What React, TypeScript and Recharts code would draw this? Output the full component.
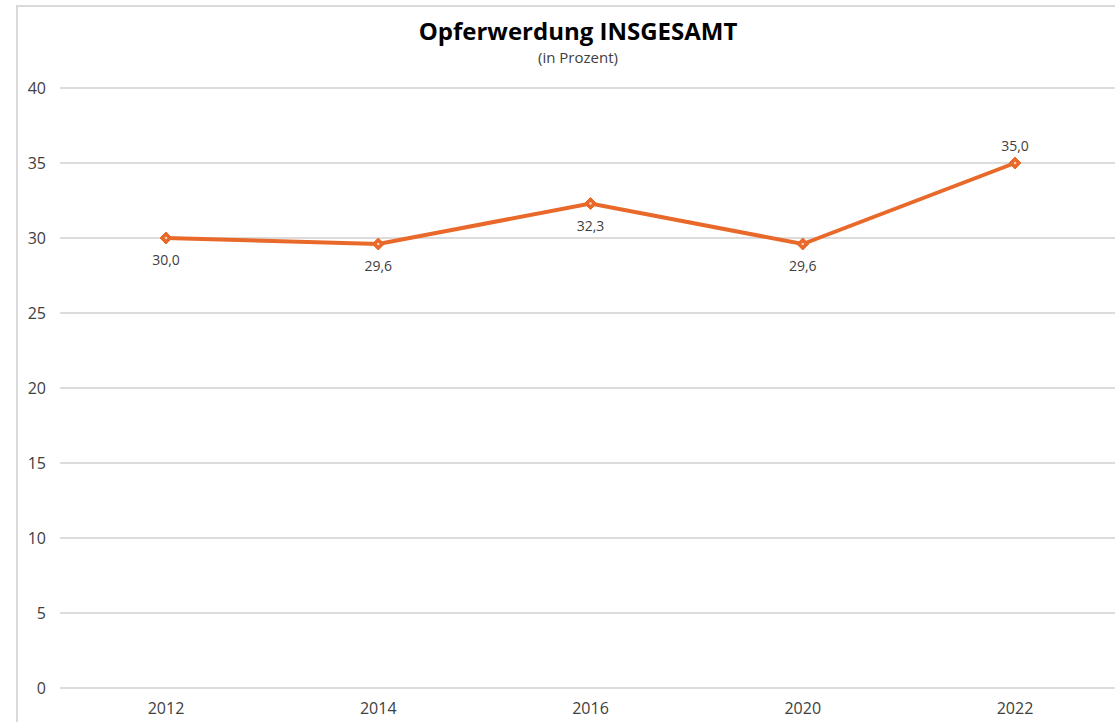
import React from "react";
import { LineChart, Line, XAxis, YAxis, CartesianGrid, LabelList } from "recharts";

const years = ["2012", "2014", "2016", "2020", "2022"];
const values = [30.0, 29.6, 32.3, 29.6, 35.0];
const yTicks = [0, 5, 10, 15, 20, 25, 30, 35, 40];

const data = years.map((y, i) => ({ year: y, value: values[i] }));

const ORANGE = "#E8692A";
const FONT = "'Open Sans', 'Noto Sans', sans-serif";

const Diamond = (props: any) => {
  const { cx, cy } = props;
  if (cx == null || cy == null) return null;
  const r = 6;
  return (
    <g>
      <path d={`M${cx},${cy - r}L${cx + r},${cy}L${cx},${cy + r}L${cx - r},${cy}Z`} fill={ORANGE} stroke={ORANGE} strokeWidth={1} />
      <circle cx={cx} cy={cy} r={1.3} fill="#f7d2bd" />
    </g>
  );
};

const ValueLabel = (props: any) => {
  const { x, y, value, index } = props;
  const above = index === values.length - 1;
  return (
    <text
      x={x}
      y={above ? y - 12 : y + 27}
      textAnchor="middle"
      fontSize={14}
      fontFamily={FONT}
      fill="#404040"
    >
      {Number(value).toFixed(1).replace(".", ",")}
    </text>
  );
};

export default function App() {
  return (
    <div style={{ position: "fixed", left: 0, top: 0, width: 1115, height: 722, overflow: "hidden", background: "#fff" }}>
      <div
        style={{
          position: "absolute",
          left: 16,
          top: 5,
          width: 1200,
          height: 800,
          borderLeft: "2px solid #d9d9d9",
          borderTop: "2px solid #d9d9d9",
          boxSizing: "border-box",
        }}
      />
      <div style={{ position: "absolute", left: 0, top: 0 }}>
        <LineChart width={1150} height={722} data={data} margin={{ top: 88, right: 29, bottom: 0, left: 0 }}>
          <CartesianGrid vertical={false} stroke="#d0d0d0" strokeWidth={1.5} />
          <XAxis
            dataKey="year"
            axisLine={false}
            tickLine={false}
            tickSize={0}
            tickMargin={15}
            height={34}
            padding={{ left: 106, right: 106 }}
            tick={{ fontSize: 16, fill: "#404040", fontFamily: FONT }}
          />
          <YAxis
            domain={[0, 40]}
            ticks={yTicks}
            axisLine={false}
            tickLine={false}
            tickSize={0}
            tickMargin={14}
            width={60}
            tick={{ fontSize: 16, fill: "#404040", fontFamily: FONT }}
          />
          <Line
            type="linear"
            dataKey="value"
            stroke={ORANGE}
            strokeWidth={4}
            dot={<Diamond />}
            activeDot={false}
            isAnimationActive={false}
          >
            <LabelList dataKey="value" content={<ValueLabel />} />
          </Line>
        </LineChart>
      </div>
      <svg width={1115} height={80} style={{ position: "absolute", left: 0, top: 0, pointerEvents: "none" }}>
        <text x={578} y={40} textAnchor="middle" fontSize={24} fontWeight={700} fontFamily={FONT} fill="#000">
          Opferwerdung INSGESAMT
        </text>
        <text x={578} y={63} textAnchor="middle" fontSize={15} fontFamily={FONT} fill="#404040">
          (in Prozent)
        </text>
      </svg>
    </div>
  );
}
